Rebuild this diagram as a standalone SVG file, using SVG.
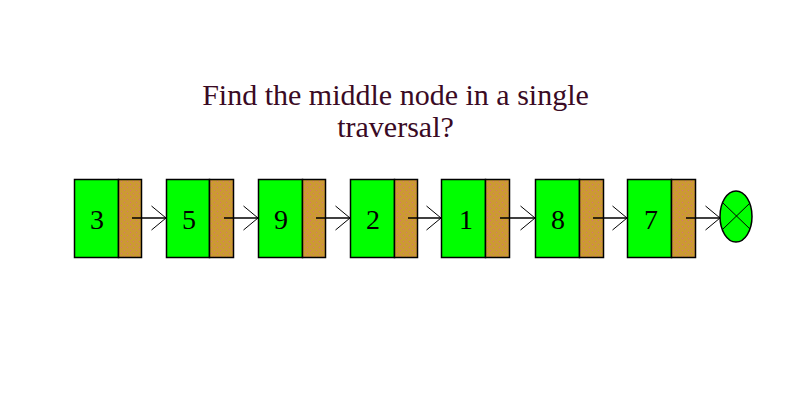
<svg xmlns="http://www.w3.org/2000/svg" width="800" height="400" viewBox="0 0 800 400">
<defs>
<pattern id="dots" width="6" height="6" patternUnits="userSpaceOnUse">
<rect width="6" height="6" fill="#cc9933"/>
<rect x="1" y="1" width="1" height="1" fill="#d9707a"/>
<rect x="4" y="4" width="1" height="1" fill="#d9707a"/>
</pattern>
<marker id="arr" markerWidth="16" markerHeight="26" refX="15" refY="13" orient="auto" markerUnits="userSpaceOnUse">
<path d="M0.5,1 L15,13 L0.5,25" fill="none" stroke="#000" stroke-width="1"/>
</marker>
</defs>
<style>
.data{fill:#00ff00;stroke:#000;stroke-width:1.5}
.ptr{fill:url(#dots);stroke:#000;stroke-width:1.5}
.num{font-family:"Liberation Serif",serif;font-size:28px;text-anchor:middle;fill:#000}
.title{font-family:"Liberation Serif",serif;font-size:30px;text-anchor:middle;fill:#3a0a24}
.link{stroke:#000;stroke-width:1.5;fill:none;marker-end:url(#arr)}
</style>
<rect width="800" height="400" fill="#fff"/>
<g id="title">
<text class="title" x="395.5" y="105">Find the middle node in a single</text>
<text class="title" x="395.5" y="137">traversal?</text>
</g>
<g id="node1"><rect class="data" x="74.5" y="179.5" width="44" height="78"/><rect class="ptr" x="118.5" y="179.5" width="23" height="78"/><text class="num" x="97" y="229">3</text></g>
<g id="node2"><rect class="data" x="166.5" y="179.5" width="43" height="78"/><rect class="ptr" x="209.5" y="179.5" width="24" height="78"/><text class="num" x="189" y="229">5</text></g>
<g id="node3"><rect class="data" x="258.5" y="179.5" width="44" height="78"/><rect class="ptr" x="302.5" y="179.5" width="23" height="78"/><text class="num" x="281" y="229">9</text></g>
<g id="node4"><rect class="data" x="350.5" y="179.5" width="44" height="78"/><rect class="ptr" x="394.5" y="179.5" width="23" height="78"/><text class="num" x="373" y="229">2</text></g>
<g id="node5"><rect class="data" x="441.5" y="179.5" width="44" height="78"/><rect class="ptr" x="485.5" y="179.5" width="24" height="78"/><text class="num" x="466" y="229">1</text></g>
<g id="node6"><rect class="data" x="535.5" y="179.5" width="44" height="78"/><rect class="ptr" x="579.5" y="179.5" width="24" height="78"/><text class="num" x="558" y="229">8</text></g>
<g id="node7"><rect class="data" x="627.5" y="179.5" width="44" height="78"/><rect class="ptr" x="671.5" y="179.5" width="24" height="78"/><text class="num" x="651" y="229">7</text></g>
<g id="null"><ellipse cx="736" cy="216.5" rx="16" ry="25.5" fill="#00ff00" stroke="#000" stroke-width="1.5"/><path d="M723,203 L750,229 M750,203 L723,229" stroke="#000" stroke-width="1"/></g>
<g id="connectors">
<line class="link" x1="132" y1="218" x2="166" y2="218"/>
<line class="link" x1="224" y1="218" x2="258" y2="218"/>
<line class="link" x1="316" y1="218" x2="350" y2="218"/>
<line class="link" x1="408" y1="218" x2="441" y2="218"/>
<line class="link" x1="500" y1="218" x2="535" y2="218"/>
<line class="link" x1="593" y1="218" x2="627" y2="218"/>
<line class="link" x1="686" y1="218" x2="720" y2="218"/>
</g>
</svg>
